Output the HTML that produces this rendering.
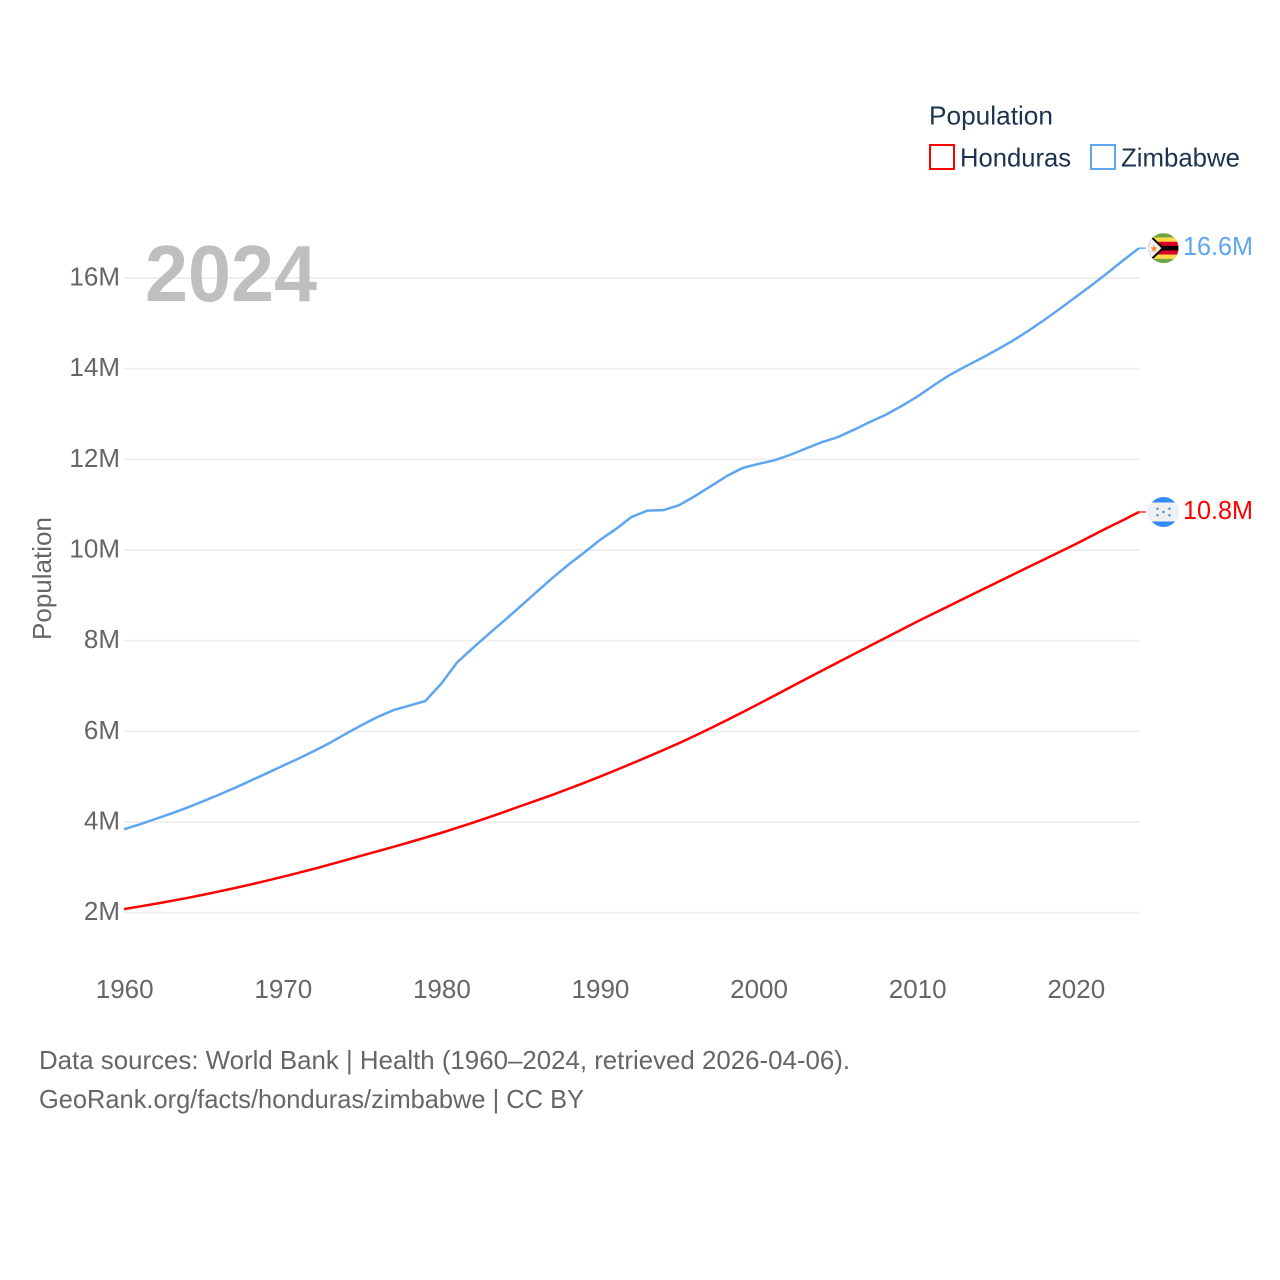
<!DOCTYPE html>
<html lang="en">
<head>
<meta charset="utf-8">
<title>Population: Honduras and Zimbabwe</title>
<style>
html,body{margin:0;padding:0;background:#fff;width:1280px;height:1280px;overflow:hidden}
svg{display:block}
text{font-family:"Liberation Sans",sans-serif}
</style>
</head>
<body>
<svg id="chart" xmlns="http://www.w3.org/2000/svg" width="1280" height="1280" viewBox="0 0 1280 1280">
  <rect x="0" y="0" width="1280" height="1280" fill="#fff"/>
  <defs>
    <clipPath id="flag-clip"><circle cx="0" cy="0" r="15"/></clipPath>
  </defs>
  <g id="grid"></g>
  <g id="yticks"></g>
  <g id="xticks"></g>
  <g id="series"></g>

  <text x="145" y="301" font-size="80" font-weight="700" fill="#bfbfbf" textLength="172" lengthAdjust="spacingAndGlyphs">2024</text>
  <text transform="translate(51,640) rotate(-90)" font-size="26" fill="#666" textLength="123" lengthAdjust="spacingAndGlyphs">Population</text>

  <g>
    <text x="929" y="124.5" font-size="26" fill="#1c3350" textLength="124" lengthAdjust="spacingAndGlyphs">Population</text>
    <rect x="930" y="145" width="24" height="24" fill="none" stroke="#ff0000" stroke-width="2"/>
    <text x="960" y="166.5" font-size="26" fill="#1c3350" textLength="111" lengthAdjust="spacingAndGlyphs">Honduras</text>
    <rect x="1091" y="145" width="24" height="24" fill="none" stroke="#5ea6f0" stroke-width="2"/>
    <text x="1121" y="166.5" font-size="26" fill="#1c3350" textLength="119" lengthAdjust="spacingAndGlyphs">Zimbabwe</text>
  </g>

  <g id="flag-zimbabwe">
    <g clip-path="url(#flag-clip)">
      <rect x="-15" y="-15" width="30" height="30" fill="#6da544"/>
      <rect x="-15" y="-10.7" width="30" height="21.4" fill="#ffda44"/>
      <rect x="-15" y="-6.4" width="30" height="12.8" fill="#d80027"/>
      <rect x="-15" y="-2.2" width="30" height="4.4" fill="#000"/>
      <path d="M-15,-15 L1,0 L-15,15 Z" fill="#000"/>
      <path d="M-15,-12.5 L-2,0 L-15,12.5 Z" fill="#f0f0f0"/>
      <text x="-9.5" y="3.6" font-size="10" fill="#f08a30" text-anchor="middle">★</text>
    </g>
  </g>
  <g id="flag-honduras">
    <g clip-path="url(#flag-clip)">
      <rect x="-15" y="-15" width="30" height="30" fill="#338af3"/>
      <rect x="-15" y="-9.5" width="30" height="19" fill="#f0f0f0"/>
      <circle cx="-6" cy="-3.2" r="1.2" fill="#338af3"/>
      <circle cx="6" cy="-3.2" r="1.2" fill="#338af3"/>
      <circle cx="0" cy="0" r="1.2" fill="#338af3"/>
      <circle cx="-6" cy="3.2" r="1.2" fill="#338af3"/>
      <circle cx="6" cy="3.2" r="1.2" fill="#338af3"/>
    </g>
  </g>

  <g>
    <text x="39" y="1069" font-size="26" fill="#666" textLength="811" lengthAdjust="spacingAndGlyphs">Data sources: World Bank | Health (1960–2024, retrieved 2026-04-06).</text>
    <text x="39" y="1108" font-size="26" fill="#666" textLength="545" lengthAdjust="spacingAndGlyphs">GeoRank.org/facts/honduras/zimbabwe | CC BY</text>
  </g>
</svg>
<script>
const startYear = 1960;
const honduras = [2.08,2.138,2.198,2.26,2.326,2.396,2.469,2.545,2.624,2.706,
  2.791,2.879,2.97,3.064,3.161,3.261,3.356,3.454,3.554,3.656,
  3.761,3.872,3.987,4.105,4.226,4.351,4.473,4.599,4.729,4.863,
  5.001,5.143,5.288,5.436,5.587,5.741,5.903,6.071,6.245,6.423,
  6.603,6.787,6.971,7.155,7.338,7.52,7.70,7.88,8.06,8.24,
  8.42,8.592,8.764,8.936,9.108,9.28,9.45,9.62,9.79,9.96,
  10.13,10.31,10.49,10.66,10.84];
const zimbabwe = [3.84,3.95,4.07,4.19,4.32,4.46,4.605,4.755,4.915,5.075,
  5.24,5.40,5.57,5.75,5.95,6.14,6.32,6.47,6.57,6.67,
  7.05,7.52,7.84,8.15,8.45,8.76,9.07,9.38,9.67,9.94,
  10.22,10.46,10.73,10.87,10.88,10.99,11.19,11.41,11.63,11.81,
  11.90,11.98,12.10,12.24,12.38,12.49,12.65,12.82,12.98,13.17,
  13.38,13.62,13.85,14.04,14.22,14.41,14.61,14.83,15.07,15.32,
  15.58,15.84,16.11,16.39,16.66];
const yTickValues = [2,4,6,8,10,12,14,16];
const yTickLabels = ["2M","4M","6M","8M","10M","12M","14M","16M"];
const xTickYears = [1960,1970,1980,1990,2000,2010,2020];
const hondurasEndLabel = "10.8M";
const zimbabweEndLabel = "16.6M";

const SVGNS = "http://www.w3.org/2000/svg";
function xScale(year){ return 124 + (year - 1960) * (1139 - 124) / 64; }
function yScale(v){ return 912.7 - (v - 2) * 45.33; }
function make(tag, parent){
  const el = document.createElementNS(SVGNS, tag);
  parent.appendChild(el);
  return el;
}
const grid = document.getElementById("grid");
const yticks = document.getElementById("yticks");
const xticks = document.getElementById("xticks");
const series = document.getElementById("series");

yTickValues.forEach(function(v, i){
  const line = make("line", grid);
  
  
  line.setAttribute("x1", xScale(1960));
  line.setAttribute("x2", xScale(2024));
  line.setAttribute("y1", yScale(v));
  line.setAttribute("y2", yScale(v));
  line.setAttribute("stroke", "#eeeeee");
  line.setAttribute("stroke-width", "1.8");
  const label = make("text", yticks);
  
  
  label.setAttribute("x", 120);
  label.setAttribute("y", yScale(v) + 7.5);
  label.setAttribute("text-anchor", "end");
  label.setAttribute("font-size", "26");
  label.setAttribute("fill", "#666");
  label.textContent = yTickLabels[i];
});

xTickYears.forEach(function(year){
  const label = make("text", xticks);
  
  
  label.setAttribute("x", xScale(year) + 0.7);
  label.setAttribute("y", 998);
  label.setAttribute("text-anchor", "middle");
  label.setAttribute("font-size", "26");
  label.setAttribute("fill", "#666");
  label.textContent = String(year);
});

function pathFor(values){
  return values.map(function(v, i){
    return (i ? "L" : "M") + xScale(startYear + i).toFixed(2) + "," + yScale(v).toFixed(2);
  }).join(" ");
}
function lastPoint(values){
  return { x: xScale(startYear + values.length - 1), y: yScale(values[values.length - 1]) };
}

const hondurasLine = make("path", series);


hondurasLine.setAttribute("d", pathFor(honduras));
hondurasLine.setAttribute("fill", "none");
hondurasLine.setAttribute("stroke", "#ff0000");
hondurasLine.setAttribute("stroke-width", "2.5");
hondurasLine.setAttribute("stroke-linejoin", "round");

const zimbabweLine = make("path", series);


zimbabweLine.setAttribute("d", pathFor(zimbabwe));
zimbabweLine.setAttribute("fill", "none");
zimbabweLine.setAttribute("stroke", "#5ea6f0");
zimbabweLine.setAttribute("stroke-width", "2.5");
zimbabweLine.setAttribute("stroke-linejoin", "round");

const hEnd = lastPoint(honduras);
const zEnd = lastPoint(zimbabwe);

const hStub = make("line", series);


hStub.setAttribute("x1", hEnd.x);
hStub.setAttribute("x2", hEnd.x + 7);
hStub.setAttribute("y1", hEnd.y);
hStub.setAttribute("y2", hEnd.y);
hStub.setAttribute("stroke", "#ff0000");
hStub.setAttribute("stroke-width", "1.5");
hStub.setAttribute("opacity", "0.8");

const zStub = make("line", series);


zStub.setAttribute("x1", zEnd.x);
zStub.setAttribute("x2", zEnd.x + 7);
zStub.setAttribute("y1", zEnd.y);
zStub.setAttribute("y2", zEnd.y);
zStub.setAttribute("stroke", "#5ea6f0");
zStub.setAttribute("stroke-width", "1.5");
zStub.setAttribute("opacity", "0.9");

const hLabel = make("text", series);


hLabel.setAttribute("x", 1183);
hLabel.setAttribute("y", hEnd.y + 7);
hLabel.setAttribute("font-size", "26");
hLabel.setAttribute("fill", "#ff0000");
hLabel.setAttribute("textLength", "70");
hLabel.setAttribute("lengthAdjust", "spacingAndGlyphs");
hLabel.textContent = hondurasEndLabel;

const zLabel = make("text", series);


zLabel.setAttribute("x", 1183);
zLabel.setAttribute("y", zEnd.y + 7);
zLabel.setAttribute("font-size", "26");
zLabel.setAttribute("fill", "#5ea6f0");
zLabel.setAttribute("textLength", "70");
zLabel.setAttribute("lengthAdjust", "spacingAndGlyphs");
zLabel.textContent = zimbabweEndLabel;

document.getElementById("flag-honduras").setAttribute("transform", "translate(1163.5," + hEnd.y + ")");
document.getElementById("flag-zimbabwe").setAttribute("transform", "translate(1163.5," + zEnd.y + ")");
</script>
</body>
</html>
